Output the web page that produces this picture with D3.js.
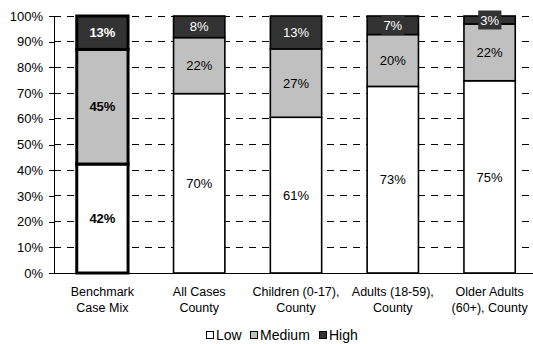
<!DOCTYPE html>
<html><head><meta charset="utf-8">
<script src="https://cdn.jsdelivr.net/npm/d3@7"></script>
<style>
html,body{margin:0;padding:0;background:#fff;}
svg{display:block;font-family:"Liberation Sans",Arial,sans-serif;}
</style></head>
<body><svg id="c" width="533" height="344"></svg>
<script>
const categories = [["Benchmark","Case Mix"],["All Cases","County"],["Children (0-17),","County"],["Adults (18-59),","County"],["Older Adults","(60+), County"]];
const seriesNames = ["Low","Medium","High"];
const low    = [42.4, 69.8, 60.6, 72.6, 74.8];
const medium = [44.6, 21.8, 26.6, 20.2, 22.1];
const high   = [13.0,  8.4, 12.8,  7.2,  3.1];
const yTicks = [0,10,20,30,40,50,60,70,80,90,100];
const colors = ["#ffffff","#c0c0c0","#333333"];
const textColors = ["#000","#000","#fff"];

const svg = d3.select("#c");
const pLeft = 54, pTop = 16, pBottom = 273, pRight = 538;
const ids = categories.map((c,i)=>i);
const x = d3.scaleBand().domain(ids).range([pLeft,pRight]).paddingInner(0.47).paddingOuter(0.235);
const y = d3.scaleLinear().domain([0,100]).range([pBottom,pTop]);

// gridlines
svg.append("g").selectAll("line").data(yTicks.filter(t=>t>0)).join("line")
  .attr("x1",pLeft).attr("x2",pRight).attr("y1",d=>y(d)).attr("y2",d=>y(d))
  .attr("stroke","#000").attr("stroke-width",1).attr("stroke-dasharray","7,6")
  .attr("shape-rendering","crispEdges");

// y axis
const yAxis = svg.append("g").attr("transform",`translate(${pLeft},0)`)
  .call(d3.axisLeft(y).tickValues(yTicks).tickFormat(d=>d+"%").tickSize(5).tickPadding(6));
yAxis.select(".domain").attr("stroke","#000");
yAxis.selectAll("line").attr("stroke","#000");
yAxis.selectAll("text").attr("font-size",13).attr("fill","#000").attr("font-family","Liberation Sans, Arial, sans-serif");
yAxis.selectAll("path,line").attr("shape-rendering","crispEdges");

// stacked data
const rows = ids.map(i=>({i, Low:low[i], Medium:medium[i], High:high[i]}));
const stacked = d3.stack().keys(seriesNames)(rows);

const bars = svg.append("g");
stacked.forEach((s,si)=>{
  bars.selectAll(null).data(s).join("rect")
    .attr("x",d=>x(d.data.i)).attr("width",x.bandwidth())
    .attr("y",d=>y(d[1])).attr("height",d=>y(d[0])-y(d[1]))
    .attr("fill",colors[si]).attr("stroke","#000")
    .attr("stroke-width",d=>d.data.i===0?3:1.6);
});

// x axis baseline
svg.append("line").attr("x1",pLeft-5).attr("x2",pRight).attr("y1",pBottom).attr("y2",pBottom)
  .attr("stroke","#000").attr("stroke-width",1).attr("shape-rendering","crispEdges");

// labels
const labels = svg.append("g");
stacked.forEach((s,si)=>{
  s.forEach(d=>{
    const cx = x(d.data.i)+x.bandwidth()/2;
    const cy = (y(d[0])+y(d[1]))/2;
    const txt = Math.round(d[1]-d[0])+"%";
    const bold = d.data.i===0;
    const g = labels.append("g");
    const t = g.append("text").attr("x",cx).attr("y",cy).attr("dy","0.36em")
      .attr("text-anchor","middle").attr("font-size",13)
      .attr("font-weight",bold?"bold":"normal").attr("fill",textColors[si]).text(txt);
    if(si===2){
      const bb = t.node().getBBox();
      g.insert("rect","text").attr("x",bb.x-2).attr("y",cy-9.5).attr("width",bb.width+4).attr("height",19)
        .attr("fill",colors[2]);
    }
  });
});

// x labels
const xl = svg.append("g");
categories.forEach((c,i)=>{
  const t = xl.append("text").attr("text-anchor","middle").attr("font-size",12.5).attr("fill","#000");
  c.forEach((line,li)=>{
    t.append("tspan").attr("x",x(i)+x.bandwidth()/2).attr("y",296+li*15.5).text(line);
  });
});

// legend
const legX = [206,250,319];
const lg = svg.append("g");
seriesNames.forEach((n,i)=>{
  lg.append("rect").attr("x",legX[i]+0.5).attr("y",331.5).attr("width",7).attr("height",7)
    .attr("fill",colors[i]).attr("stroke","#000").attr("stroke-width",1);
  lg.append("text").attr("x",legX[i]+10).attr("y",340).attr("font-size",14).attr("fill","#000").text(n);
});
</script></body></html>
